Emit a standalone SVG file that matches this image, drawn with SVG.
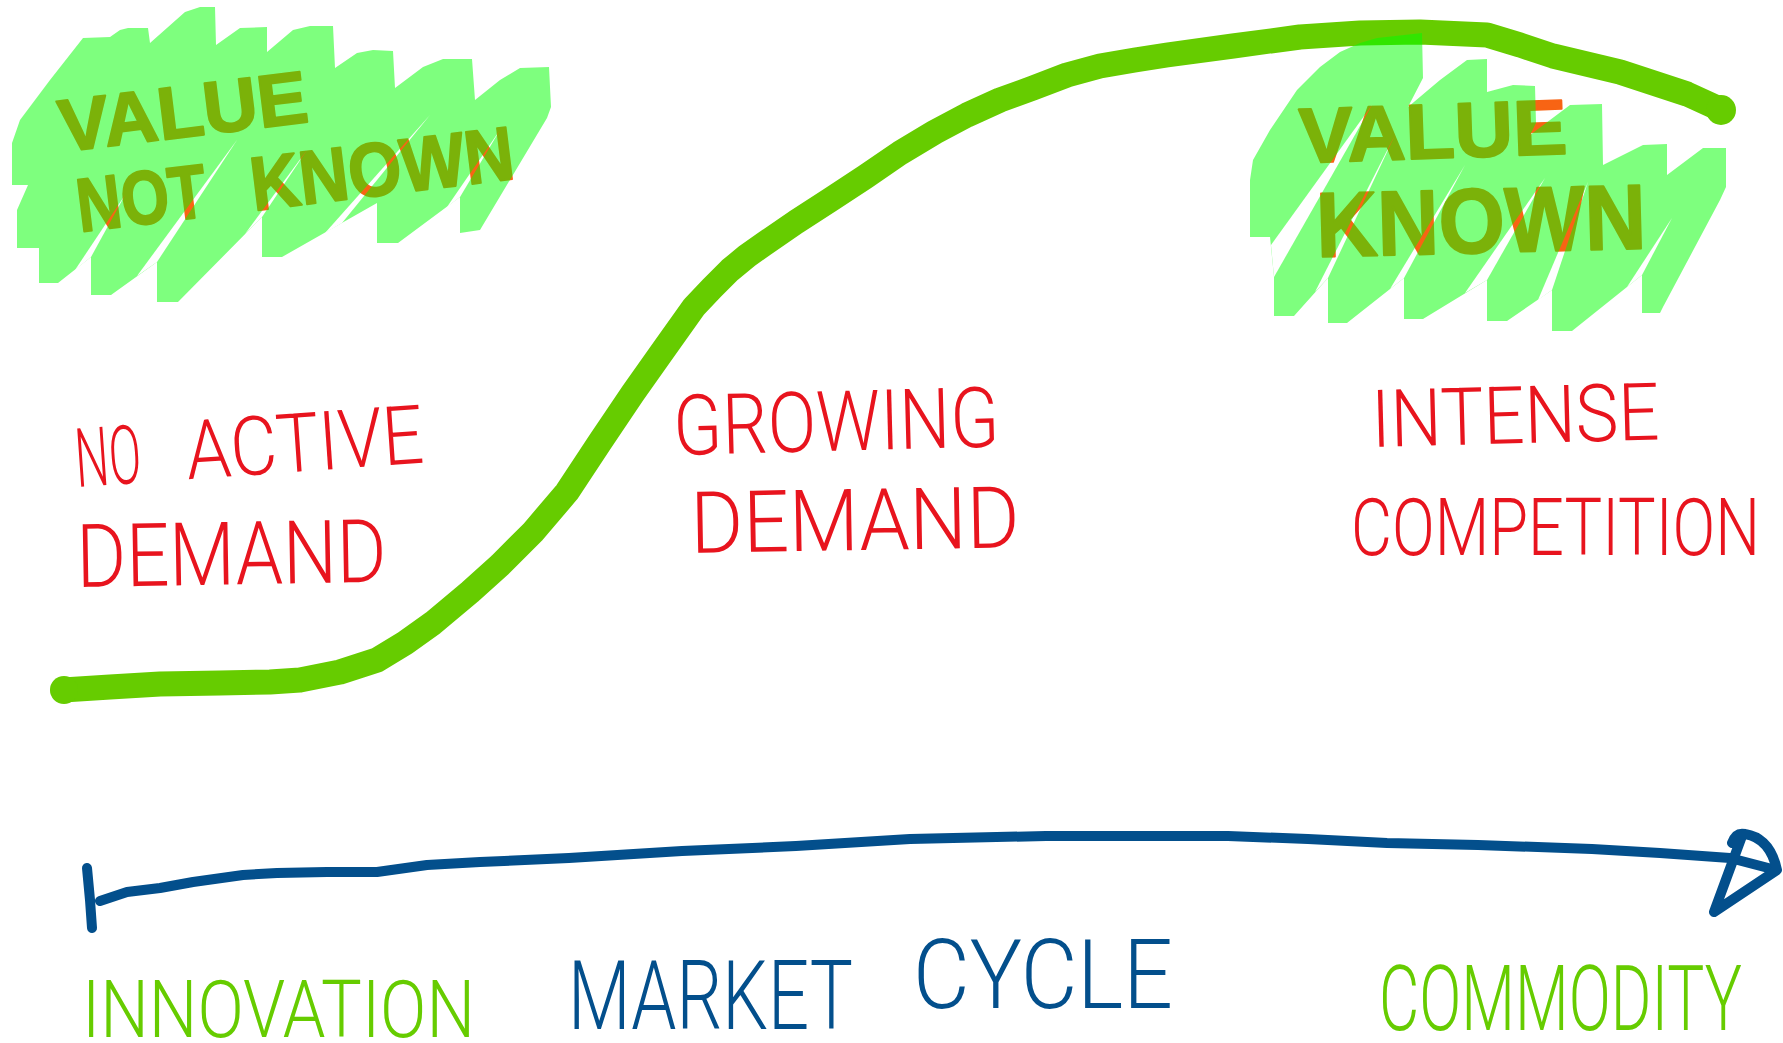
<svg xmlns="http://www.w3.org/2000/svg" width="1783" height="1043" viewBox="0 0 1783 1043">
  <style>
    .curve{fill:none;stroke:#66cc00;stroke-width:25;stroke-linecap:round;stroke-linejoin:round}
    .axis{fill:none;stroke:#034f8c;stroke-width:10;stroke-linecap:round;stroke-linejoin:round}
    .marker{font-family:"Liberation Sans",Arial,sans-serif;font-weight:700;fill:#f86414;stroke:#f86414;stroke-width:2;stroke-linejoin:round}
    .hand{font-family:Roboto,"Liberation Sans",sans-serif;font-weight:300}
    .red{fill:#e8141e}
    .blue{fill:#034f8c}
    .lime{fill:#66cc00}
    .hl{fill:#00ff00}
  </style>
  <defs>
    <!-- gaps between highlighter strokes -->
    <mask id="cutL" maskUnits="userSpaceOnUse" x="0" y="0" width="1783" height="1043">
      <rect width="1783" height="1043" fill="#fff"/>
      <g fill="#000">
        <polygon points="75,270 91,257 125,195"/>
        <polygon points="137,276 157,262 237,140"/>
        <polygon points="245,234 262,217 307,150"/>
        <polygon points="325,233 342,223 430,115"/>
        <polygon points="447,207 460,197 500,130"/>
      </g>
    </mask>
    <mask id="cutR" maskUnits="userSpaceOnUse" x="0" y="0" width="1783" height="1043">
      <rect width="1783" height="1043" fill="#fff"/>
      <g fill="#000">
        <polygon points="1271,245 1274,277 1372,105"/>
        <polygon points="1315,292 1328,278 1395,135"/>
        <polygon points="1390,289 1404,278 1465,165"/>
        <polygon points="1465,293 1487,280 1545,178"/>
        <polygon points="1538,300 1552,290 1588,182"/>
        <polygon points="1627,287 1642,275 1672,218"/>
      </g>
    </mask>
  </defs>

  <rect width="1783" height="1043" fill="#fff"/>

  <!-- connectors: demand curve and market-cycle axis -->
  <g id="connectors">
    <path class="curve" d="M63,690 L110,687 L160,684 L220,683 L270,682 L300,680 L340,672 L377,660 L405,643 L433,623 L470,592 L500,565 L533,532 L567,492 L600,442 L633,393 L662,352 L694,307 L712,288 L730,270 L747,256 L764,244 L796,222 L830,200 L865,177 L900,153 L935,132 L967,115 L1000,100 L1033,88 L1067,75 L1100,66 L1135,60 L1167,55 L1233,46 L1300,37 L1360,33 L1420,32 L1487,35 L1520,45 L1553,56 L1620,72 L1687,94 L1722,110"/>
    <circle cx="64" cy="690" r="14" fill="#66cc00"/>
    <circle cx="1721" cy="110" r="15" fill="#66cc00"/>
    <path class="axis" d="M100,901 L127,892 L160,888 L193,882 L243,875 L277,873 L327,872 L377,872 L427,865 L480,862 L569,858 L682,851 L796,846 L910,839 L1046,836 L1137,836 L1228,836 L1308,839 L1387,843 L1478,845 L1592,849 L1660,853 L1730,858 L1776,870"/>
    <path class="axis" stroke-width="11" d="M87,868 L90,900 L92,928"/>
    <path class="axis" d="M1732,843 Q1736,832 1745,834 Q1770,838 1777,870 L1714,912 L1742,836"/>
  </g>

  <!-- top-left marker note -->
  <g id="value-not-known">
    <text class="marker" font-size="74" transform="translate(62,152) rotate(-7)" textLength="250" lengthAdjust="spacingAndGlyphs">VALUE</text>
    <text class="marker" font-size="76" transform="translate(80,232) rotate(-7)"><tspan x="0" textLength="130" lengthAdjust="spacingAndGlyphs">NOT</tspan><tspan x="175" textLength="265" lengthAdjust="spacingAndGlyphs">KNOWN</tspan></text>
    <g opacity="0.5" mask="url(#cutL)">
      <path class="hl" d="M12,185 L12,143 L20,120 L50,80 L83,38 L110,37 L120,30 L128,28 L148,28 L150,43 L185,12 L200,7 L215,7 L216,45 L240,28 L267,27 L267,52 L293,30 L310,26 L333,26 L335,68 L357,53 L373,50 L393,51 L395,88 L423,67 L443,59 L472,59 L475,100 L500,80 L520,68 L549,67 L551,107 L547,118 L480,230 L460,233 L460,197 L398,243 L377,243 L377,203 L282,257 L262,257 L262,217 L178,302 L157,302 L157,262 L111,295 L91,295 L91,257 L58,283 L39,283 L39,248 L17,248 L17,210 L28,185 Z"/>
    </g>
  </g>

  <!-- top-right marker note -->
  <g id="value-known">
    <text class="marker" font-size="78" transform="translate(1300,163) rotate(-2)" textLength="268" lengthAdjust="spacingAndGlyphs">VALUE</text>
    <text class="marker" font-size="92" stroke-width="5" transform="translate(1317,257) rotate(-1.5)" textLength="330" lengthAdjust="spacingAndGlyphs">KNOWN</text>
    <g opacity="0.5" mask="url(#cutR)">
      <path class="hl" d="M1250,237 L1250,180 L1253,160 L1270,130 L1297,90 L1320,67 L1340,52 L1360,43 L1377,38 L1422,33 L1423,78 L1408,107 L1440,80 L1467,60 L1487,59 L1487,92 L1513,85 L1535,86 L1536,123 L1530,135 L1570,105 L1602,104 L1603,165 L1643,145 L1667,144 L1667,175 L1703,148 L1726,148 L1726,187 L1720,200 L1663,307 L1660,313 L1642,313 L1642,275 L1572,331 L1552,331 L1552,290 L1507,321 L1487,321 L1487,280 L1423,319 L1404,319 L1404,278 L1347,323 L1328,323 L1328,278 L1294,316 L1274,316 L1274,277 L1270,237 Z"/>
    </g>
  </g>

  <!-- phase labels -->
  <g id="no-active-demand" class="hand red">
    <text font-size="82" transform="translate(77,487) rotate(-4)"><tspan x="0" textLength="66" lengthAdjust="spacingAndGlyphs">NO</tspan><tspan x="111" textLength="238" lengthAdjust="spacingAndGlyphs">ACTIVE</tspan></text>
    <text font-size="88" transform="translate(77,587) rotate(-1)" textLength="310" lengthAdjust="spacingAndGlyphs">DEMAND</text>
  </g>
  <g id="growing-demand" class="hand red">
    <text font-size="84" transform="translate(674,455) rotate(-1.5)" textLength="326" lengthAdjust="spacingAndGlyphs">GROWING</text>
    <text font-size="86" transform="translate(691,553) rotate(-1)" textLength="329" lengthAdjust="spacingAndGlyphs">DEMAND</text>
  </g>
  <g id="intense-competition" class="hand red">
    <text font-size="80" transform="translate(1372,447) rotate(-1.5)" textLength="288" lengthAdjust="spacingAndGlyphs">INTENSE</text>
    <text font-size="80" transform="translate(1351,555)" textLength="409" lengthAdjust="spacingAndGlyphs">COMPETITION</text>
  </g>

  <!-- axis labels -->
  <g id="innovation" class="hand lime">
    <text font-size="80" x="82" y="1037" textLength="393" lengthAdjust="spacingAndGlyphs">INNOVATION</text>
  </g>
  <g id="market-cycle" class="hand blue">
    <text font-size="96"><tspan x="568" y="1029" textLength="285" lengthAdjust="spacingAndGlyphs">MARKET</tspan><tspan x="913" y="1008" textLength="260" lengthAdjust="spacingAndGlyphs">CYCLE</tspan></text>
  </g>
  <g id="commodity" class="hand lime">
    <text font-size="90" x="1379" y="1030" textLength="363" lengthAdjust="spacingAndGlyphs">COMMODITY</text>
  </g>
</svg>
